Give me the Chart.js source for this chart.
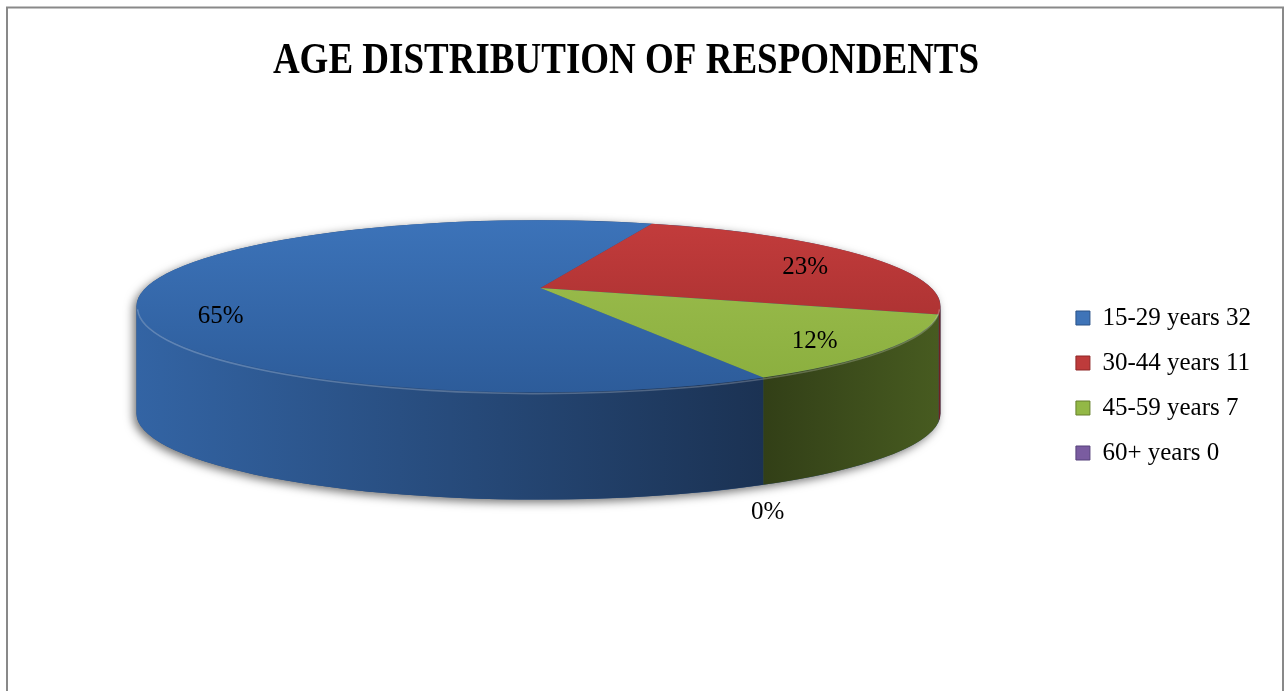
<!DOCTYPE html>
<html><head><meta charset="utf-8">
<script src="https://cdn.jsdelivr.net/npm/chart.js@4/dist/chart.umd.min.js"></script>
<style>html,body{margin:0;padding:0;background:#fff;}canvas{display:block}</style>
</head><body>
<canvas id="c" width="1284" height="691"></canvas>
<script>
// ---- data ----
const categories = ['15-29 years 32', '30-44 years 11', '45-59 years 7', '60+ years 0'];
const respondents = [32, 11, 7, 0];
const percentLabels = ['65%', '23%', '12%', '0%'];
const titleText = 'AGE DISTRIBUTION OF RESPONDENTS';

// ---- styles ----
const legendColors = ['#3F74B8', '#BE3B3B', '#93B846', '#7A5CA0'];
const legendBorders = ['#2A5288', '#8E2626', '#667F2C', '#55407A'];
const topShades = [['#3C73B9', '#2D5C9A'], ['#C33C3C', '#9E2C2C'], ['#9FC050', '#8AAE3E'], ['#7D5FA3', '#5E4580']];
const sideShades = [['#3364A4', '#1B3253'], ['#7A2222', '#6A1C1C'], ['#323F17', '#475B20'], ['#4A3766', '#3A2A52']];

const SERIF = "'Liberation Serif', 'Times New Roman', serif";
Chart.defaults.font.family = SERIF;

// 3D geometry factors relative to the pie radius computed by Chart.js
const RXF = 1.318, RYF = 0.282, DEPTHF = 0.352, CYF = -0.26, APEXF = -0.06;

function geom(chart) {
  const meta = chart.getDatasetMeta(0);
  const a = meta.data[0];
  const R = a.outerRadius;
  const cx = a.x, cy = a.y + CYF * R;
  return { meta, R, cx, cy, rx: RXF * R, ry: RYF * R, D: DEPTHF * R, ax: cx + 2, ay: cy + APEXF * R };
}

const pie3d = {
  id: 'pie3d',
  beforeDraw(chart) {
    const ctx = chart.ctx;
    ctx.save();
    ctx.fillStyle = '#fff';
    ctx.fillRect(0, 0, chart.width, chart.height);
    ctx.strokeStyle = '#898989';
    ctx.lineWidth = 2;
    ctx.strokeRect(7, 7.5, 1276, 720);
    // title
    ctx.fillStyle = '#000';
    ctx.font = 'bold 37px ' + SERIF;
    ctx.textAlign = 'center';
    ctx.textBaseline = 'alphabetic';
    ctx.translate(626, 72.5);
    ctx.scale(1, 1.2);
    ctx.fillText(titleText, 0, 0);
    ctx.restore();
  },
  beforeDatasetsDraw(chart) {
    const ctx = chart.ctx;
    const g = geom(chart);
    const { cx, cy, rx, ry, D } = g;
    const arcs = g.meta.data;
    ctx.save();

    // drop shadow of the whole body
    ctx.save();
    ctx.beginPath();
    ctx.ellipse(cx, cy, rx, ry, 0, Math.PI, 2 * Math.PI);
    ctx.lineTo(cx + rx, cy + D);
    ctx.ellipse(cx, cy + D, rx, ry, 0, 0, Math.PI);
    ctx.closePath();
    ctx.shadowColor = 'rgba(0,0,0,0.55)';
    ctx.shadowBlur = 10;
    ctx.shadowOffsetX = -3;
    ctx.shadowOffsetY = 3;
    ctx.fillStyle = '#2A4E80';
    ctx.fill();
    ctx.restore();

    // side walls (front half only)
    arcs.forEach((arc, i) => {
      if (respondents[i] <= 0) return;
      const s = arc.startAngle, e = arc.endAngle;
      for (let k = -2; k <= 2; k++) {
        const lo = Math.max(s, 2 * Math.PI * k), hi = Math.min(e, 2 * Math.PI * k + Math.PI);
        if (hi - lo <= 1e-6) continue;
        const x1 = cx + rx * Math.cos(hi), x0 = cx + rx * Math.cos(lo);
        const gr = ctx.createLinearGradient(Math.min(x0, x1), 0, Math.max(x0, x1), 0);
        gr.addColorStop(0, sideShades[i][0]);
        gr.addColorStop(1, sideShades[i][1]);
        ctx.beginPath();
        ctx.ellipse(cx, cy, rx, ry, 0, lo, hi);
        ctx.lineTo(cx + rx * Math.cos(hi), cy + ry * Math.sin(hi) + D);
        ctx.ellipse(cx, cy + D, rx, ry, 0, hi, lo, true);
        ctx.closePath();
        ctx.fillStyle = gr;
        ctx.fill();
      }
    });

    // top faces
    arcs.forEach((arc, i) => {
      if (respondents[i] <= 0) return;
      const gr = ctx.createLinearGradient(0, cy - ry, 0, cy + ry);
      gr.addColorStop(0, topShades[i][0]);
      gr.addColorStop(1, topShades[i][1]);
      ctx.beginPath();
      ctx.moveTo(g.ax, g.ay);
      ctx.lineTo(cx + rx * Math.cos(arc.startAngle), cy + ry * Math.sin(arc.startAngle));
      ctx.ellipse(cx, cy, rx, ry, 0, arc.startAngle, arc.endAngle);
      ctx.closePath();
      ctx.fillStyle = gr;
      ctx.fill();
    });

    // rim highlight
    ctx.beginPath();
    ctx.ellipse(cx, cy + 1.5, rx - 1, ry, 0, 0.02, Math.PI - 0.02);
    ctx.strokeStyle = 'rgba(255,255,255,0.22)';
    ctx.lineWidth = 1.5;
    ctx.stroke();

    // data labels
    ctx.fillStyle = '#000';
    ctx.font = '25px ' + SERIF;
    ctx.textAlign = 'center';
    ctx.textBaseline = 'middle';
    arcs.forEach((arc, i) => {
      const m = (arc.startAngle + arc.endAngle) / 2;
      let x, y;
      if (respondents[i] > 0) {
        x = cx + 0.8 * rx * Math.cos(m);
        y = cy + 0.8 * ry * Math.sin(m);
      } else {
        x = cx + 1.02 * rx * Math.cos(m);
        y = cy + ry * Math.sin(m) + D + 28;
      }
      ctx.fillText(percentLabels[i], x, y);
    });

    ctx.restore();
    return false;
  }
};

new Chart(document.getElementById('c'), {
  type: 'pie',
  data: {
    labels: categories,
    datasets: [{
      data: respondents,
      backgroundColor: legendColors,
      borderColor: legendBorders,
      borderWidth: 1,
      hoverOffset: 0
    }]
  },
  options: {
    responsive: false,
    animation: false,
    devicePixelRatio: 1,
    rotation: 146,
    layout: { padding: { left: 21, right: 23, top: 80, bottom: 0 } },
    plugins: {
      title: { display: false },
      tooltip: { enabled: false },
      legend: {
        position: 'right',
        labels: {
          boxWidth: 14,
          boxHeight: 14,
          padding: 20,
          color: '#000',
          font: { family: SERIF, size: 25 }
        }
      }
    }
  },
  plugins: [pie3d]
});
</script>
</body></html>
